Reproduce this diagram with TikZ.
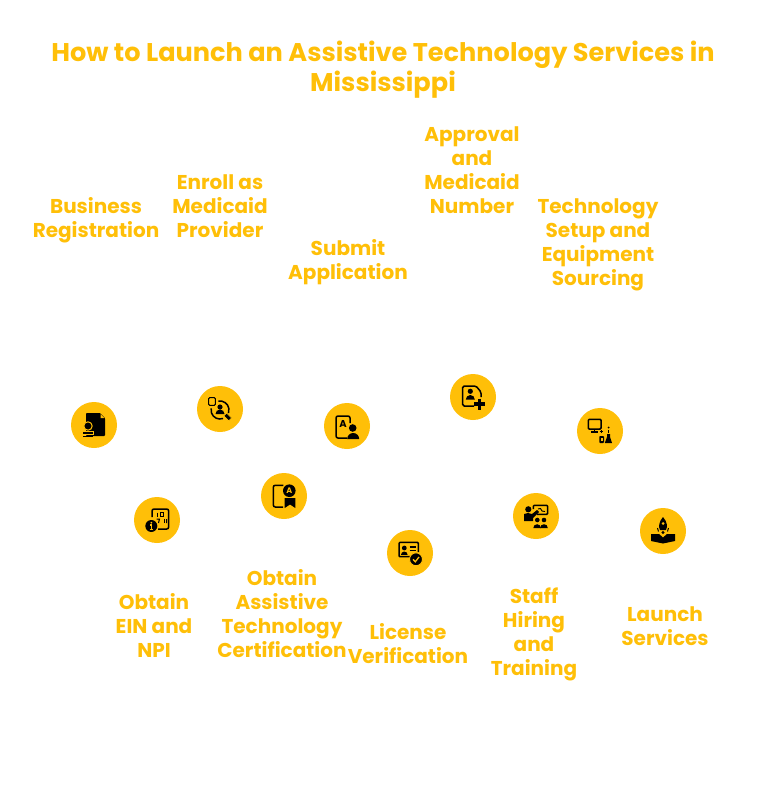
\documentclass[tikz,border=0pt]{standalone}
\usepackage{fontspec}
\setmainfont{Poppins}
\usepackage{xcolor}
\usetikzlibrary{positioning}
\definecolor{amberx}{HTML}{FFBF08}
\tikzset{
 dot/.style={circle,fill=amberx,minimum size=46pt,inner sep=0pt},
 lab/.style={text=amberx,font=\fontsize{20}{24}\selectfont\bfseries,align=center,inner sep=0pt},
 ttl/.style={text=amberx,font=\fontsize{25.6}{30}\selectfont\bfseries,align=center,inner sep=0pt},
 ln/.style={draw=black,line width=1.5pt,rounded corners=1pt},
 thin/.style={draw=black,line width=1pt},
 bizicon/.pic={
  \fill[black,rounded corners=.8pt] (-8,-12)--(6,-12)--(11,-7)--(11,11)--(-8,11)--cycle;
  \fill[amberx] (6.5,-11)--(6.5,-7)--(10.5,-7)--cycle;
  \fill[black,draw=amberx,line width=1pt] (-6,1) circle (4.2);
  \fill[black,draw=amberx,line width=1pt] (-12,6) rectangle (-.5,9.5);
  \fill[black] (-11.5,10.5) rectangle (-1,12);},
 enrollicon/.pic={
  \draw[thin,rounded corners=1pt] (-11.3,-11.3) rectangle (-4.7,-3.7);
  \draw[ln] (0,1) ++(-100:9) arc (-100:20:9);
  \draw[ln] (0,1) ++(70:9) arc (70:190:9);
  \fill[black] (0,-2) circle (2.6);
  \fill[black] (-4.5,5) arc (180:360:4.5) -- cycle;
  \fill[black,draw=amberx,line width=.6pt,rotate around={-45:(7.7,8)}] (4.2,6) rectangle (11.2,10);},
 submiticon/.pic={
  \draw[ln,rounded corners=2pt] (3,-3)--(3,-10)--(-11,-10)--(-11,12)--(0,12);
  \node[font=\fontsize{10}{10}\selectfont\bfseries,inner sep=0pt] at (-4,-2) {A};
  \fill[black] (5.7,2) circle (3.8);
  \fill[black] (.2,13) arc (180:360:6) -- cycle;},
 approvalicon/.pic={
  \draw[ln,rounded corners=1.5pt] (1,9)--(-10.3,9)--(-10.3,-11)--(3,-11)--(8,-5)--(8,0);
  \fill[black] (-2.7,-5.7) circle (2.6);
  \fill[black] (-7.2,2.5) arc (180:360:4.5) -- cycle;
  \draw[black,line width=3.2pt] (6.7,1.5)--(6.7,12.5) (1.2,7)--(12.2,7);},
 techicon/.pic={
  \draw[ln] (-11.7,-11.7) rectangle (1,-2);
  \draw[black,line width=1.5pt] (-5.7,-2)--(-5.7,1) (-9,1)--(-2.5,1);
  \draw[black,line width=.9pt] (-.5,.5)--(2.5,.5) (1,-1)--(1,2);
  \fill[black,rounded corners=.8pt] (-.7,5) rectangle (4,12);
  \fill[amberx] (.8,6.5) rectangle (2.5,10);
  \fill[black] (7,3)--(10,3)--(10,6)--(12,12)--(4.8,12)--(7,6)--cycle;
  \fill[black] (8.5,-3.5) circle (1);
  \fill[black] (8,-1) rectangle (9,1.5);},
 einicon/.pic={
  \draw[ln,rounded corners=2pt] (-5,-3)--(-5,-11)--(11.7,-11)--(11.7,9)--(1,9);
  \draw[black,line width=1pt] (.5,-7.5)--(.5,-3.5) (7,-1)--(7,3);
  \draw[black,line width=.9pt] (3.5,-7.5) rectangle (6.5,-3.5);
  \draw[black,line width=1pt] (-.5,-1)--(2.5,-1)--(1.5,3) (9.5,-1)--(9.5,3);
  \fill[black] (-5.7,6) circle (6);
  \fill[amberx] (-5.7,2.7) circle (1);
  \draw[amberx,line width=1.2pt] (-7,5)--(-5.7,5)--(-5.7,9.3) (-7.3,9.5)--(-4,9.5);},
 certicon/.pic={
  \draw[ln,rounded corners=2pt] (-.7,-10.7)--(-10.7,-10.7)--(-10.7,11)--(-1,11);
  \fill[black] (5.3,-5.3) circle (6.3);
  \node[text=amberx,font=\fontsize{8}{8}\selectfont\bfseries,inner sep=0pt] at (5.3,-5.3) {A};
  \fill[black] (.7,2)--(11.3,2)--(11.3,12)--(6,8.5)--(.7,12)--cycle;},
 licicon/.pic={
  \draw[ln] (2,3.7)--(-11,3.7)--(-11,-10.7)--(8.3,-10.7)--(8.3,-1);
  \fill[black] (-5.7,-5) circle (2.4);
  \fill[black] (-9,1.8) arc (180:360:3.3) -- cycle;
  \draw[black,line width=1.3pt] (-.5,-6)--(6,-6) (-.5,-2.5)--(6,-2.5);
  \fill[black,draw=amberx,line width=1pt] (6,6.3) circle (6.5);
  \draw[amberx,line width=1.3pt] (3,6.3)--(5.3,8.8)--(9,4);},
 stafficon/.pic={
  \draw[ln] (-2.7,-7)--(-2.7,-10.7)--(11.7,-10.7)--(11.7,-1.7)--(1,-1.7);
  \draw[black,line width=.9pt] (2,-7)--(4.5,-7.5)--(6,-5)--(9,-4.5);
  \fill[black] (-7.7,-6.7) circle (3.1);
  \fill[black] (-12,5)--(-12,-2)--(-8,-3)--(-4,-2)--(1,-6)--(3,-4)--(-3,2)--(-3,5)--cycle;
  \fill[black] (1.3,4) circle (2.3) (8,4) circle (2.3);
  \fill[black] (-2.7,12) arc (180:360:3.8) -- cycle;
  \fill[black] (4.2,12) arc (180:360:3.8) -- cycle;},
 launchicon/.pic={
  \fill[black] (0,-14) .. controls (4.5,-9) and (4.5,-4) .. (3,-1) -- (-3,-1) .. controls (-4.5,-4) and (-4.5,-9) .. (0,-14);
  \fill[amberx] (0,-7.5) circle (1.5);
  \fill[black] (-12,3)--(-4,3)--(0,6.5)--(4,3)--(12,3)--(12,10)--(0,12.5)--(-12,10)--cycle;
  \fill[black] (0,1.5) circle (1.7);
  \draw[black,line width=1pt] (-5.5,-3)--(-4.5,.5) (5.5,-3)--(4.5,.5);},
}
\begin{document}
\begin{tikzpicture}[x=1pt,y=-1pt]
\useasboundingbox (0,0) rectangle (773,792);
\node[ttl] (title) at (383,69.5) {How to Launch an Assistive Technology Services in\\Mississippi};
% top row
\node[dot] (biz) at (94,425) {};
\node[dot] (enroll) at (220,409) {};
\node[dot] (submit) at (347,426) {};
\node[dot] (approval) at (473,397) {};
\node[dot] (tech) at (600,431) {};
% bottom row
\node[dot] (ein) at (157,520) {};
\node[dot] (cert) at (284,496) {};
\node[dot] (lic) at (410,553) {};
\node[dot] (staff) at (536,516) {};
\node[dot] (launch) at (663,531) {};
\pic at (biz) {bizicon};
\pic at (enroll) {enrollicon};
\pic at (submit) {submiticon};
\pic at (approval) {approvalicon};
\pic at (tech) {techicon};
\pic at (ein) {einicon};
\pic at (cert) {certicon};
\pic at (lic) {licicon};
\pic at (staff) {stafficon};
\pic at (launch) {launchicon};
\node[lab] (bizlab) at (96,220.5) {Business\\Registration};
\node[lab] (enrolllab) at (220,206) {Enroll as\\Medicaid\\Provider};
\node[lab] (submitlab) at (348,262) {Submit\\Application};
\node[lab] (approvallab) at (472,170) {Approval\\and\\Medicaid\\Number};
\node[lab] (techlab) at (598,245) {Technology\\Setup and\\Equipment\\Sourcing};
\node[lab] (einlab) at (154,625) {Obtain\\EIN and\\NPI};
\node[lab] (certlab) at (282,614) {Obtain\\Assistive\\Technology\\Certification};
\node[lab] (liclab) at (408,644) {License\\Verification};
\node[lab] (stafflab) at (534,634) {Staff\\Hiring\\and\\Training};
\node[lab] (launchlab) at (665,626) {Launch\\Services};
\end{tikzpicture}
\end{document}
